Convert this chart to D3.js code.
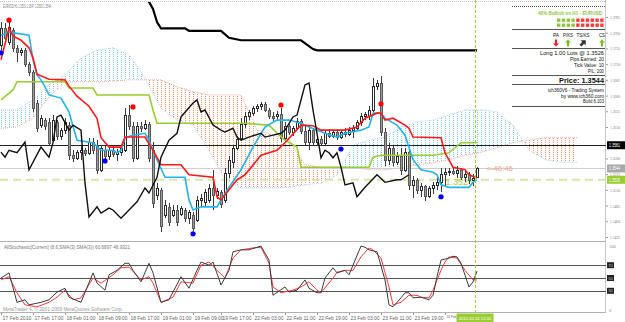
<!DOCTYPE html>
<html><head><meta charset="utf-8">
<script src="https://cdn.jsdelivr.net/npm/d3@7"></script>
<style>body{margin:0;background:#fff}svg{display:block;font-family:"Liberation Sans",Arial,sans-serif}</style>
</head><body><svg id="c" width="625" height="322"></svg>
<script>
// ---------- DATA ----------
const opens=[1.3740,1.3767,1.3745,1.3764,1.3736,1.3729,1.3732,1.3710,1.3697,1.3648,
1.3613,1.3621,1.3618,1.3589,1.3618,1.3596,1.3605,1.3613,1.3565,1.3561,
1.3570,1.3573,1.3569,1.3586,1.3581,1.3542,1.3573,1.3564,1.3573,1.3567,
1.3570,1.3573,1.3629,1.3612,1.3561,1.3612,1.3608,1.3615,1.3573,1.3502,
1.3510,1.3470,1.3483,1.3470,1.3478,1.3472,1.3478,1.3465,1.3470,1.3462,
1.3494,1.3491,1.3494,1.3513,1.3502,1.3507,1.3494,1.3537,1.3554,1.3577,
1.3593,1.3615,1.3628,1.3632,1.3640,1.3643,1.3647,1.3637,1.3628,1.3628,
1.3631,1.3593,1.3612,1.3602,1.3608,1.3620,1.3604,1.3586,1.3605,1.3586,
1.3591,1.3585,1.3600,1.3596,1.3602,1.3594,1.3602,1.3599,1.3605,1.3608,
1.3618,1.3628,1.3628,1.3637,1.3675,1.3680,1.3602,1.3558,1.3577,1.3554,
1.3564,1.3542,1.3570,1.3518,1.3526,1.3510,1.3516,1.3500,1.3513,1.3518,
1.3522,1.3535,1.3538,1.3540,1.3537,1.3542,1.3530,1.3535,1.3526,1.3531];
const highs=[1.3777,1.3775,1.3779,1.3767,1.3740,1.3736,1.3736,1.3713,1.3701,1.3653,
1.3629,1.3624,1.3624,1.3629,1.3621,1.3608,1.3624,1.3618,1.3573,1.3573,
1.3581,1.3577,1.3593,1.3593,1.3589,1.3581,1.3580,1.3577,1.3580,1.3575,
1.3580,1.3640,1.3645,1.3618,1.3618,1.3618,1.3621,1.3618,1.3586,1.3521,
1.3513,1.3494,1.3489,1.3486,1.3486,1.3484,1.3481,1.3478,1.3475,1.3500,
1.3503,1.3511,1.3519,1.3542,1.3513,1.3510,1.3545,1.3564,1.3581,1.3596,
1.3624,1.3634,1.3637,1.3643,1.3647,1.3650,1.3650,1.3640,1.3634,1.3635,
1.3640,1.3618,1.3615,1.3612,1.3624,1.3623,1.3612,1.3612,1.3608,1.3596,
1.3596,1.3605,1.3607,1.3605,1.3607,1.3605,1.3608,1.3610,1.3613,1.3621,
1.3632,1.3634,1.3643,1.3688,1.3685,1.3691,1.3608,1.3585,1.3580,1.3570,
1.3577,1.3577,1.3573,1.3532,1.3529,1.3521,1.3518,1.3516,1.3522,1.3529,
1.3545,1.3545,1.3545,1.3546,1.3548,1.3545,1.3542,1.3538,1.3535,1.3547];
const lows=[1.3732,1.3748,1.3740,1.3729,1.3713,1.3723,1.3705,1.3691,1.3634,1.3602,
1.3608,1.3605,1.3580,1.3586,1.3589,1.3589,1.3599,1.3558,1.3554,1.3558,
1.3558,1.3564,1.3565,1.3567,1.3535,1.3538,1.3558,1.3558,1.3562,1.3556,
1.3564,1.3570,1.3605,1.3554,1.3558,1.3602,1.3605,1.3554,1.3481,1.3494,
1.3443,1.3465,1.3453,1.3467,1.3453,1.3468,1.3459,1.3456,1.3445,1.3459,
1.3484,1.3483,1.3489,1.3478,1.3495,1.3481,1.3489,1.3529,1.3545,1.3573,
1.3589,1.3608,1.3621,1.3628,1.3634,1.3637,1.3634,1.3623,1.3620,1.3621,
1.3586,1.3589,1.3597,1.3596,1.3605,1.3599,1.3581,1.3573,1.3580,1.3581,
1.3580,1.3581,1.3593,1.3593,1.3589,1.3591,1.3594,1.3596,1.3593,1.3604,
1.3612,1.3621,1.3621,1.3634,1.3669,1.3596,1.3548,1.3550,1.3548,1.3550,
1.3534,1.3538,1.3510,1.3497,1.3503,1.3499,1.3492,1.3497,1.3503,1.3510,
1.3507,1.3516,1.3532,1.3534,1.3529,1.3526,1.3522,1.3519,1.3516,1.3530];
const closes=[1.3767,1.3752,1.3769,1.3736,1.3729,1.3732,1.3710,1.3697,1.3640,1.3608,
1.3624,1.3612,1.3585,1.3621,1.3596,1.3605,1.3618,1.3565,1.3561,1.3570,
1.3573,1.3569,1.3586,1.3573,1.3542,1.3577,1.3564,1.3573,1.3567,1.3570,
1.3577,1.3629,1.3612,1.3561,1.3612,1.3608,1.3615,1.3561,1.3489,1.3513,
1.3453,1.3486,1.3459,1.3478,1.3459,1.3481,1.3465,1.3475,1.3449,1.3494,
1.3497,1.3507,1.3513,1.3502,1.3508,1.3488,1.3537,1.3558,1.3577,1.3591,
1.3615,1.3628,1.3634,1.3640,1.3643,1.3647,1.3637,1.3628,1.3624,1.3631,
1.3593,1.3612,1.3602,1.3608,1.3620,1.3604,1.3586,1.3605,1.3586,1.3591,
1.3585,1.3600,1.3596,1.3602,1.3594,1.3602,1.3599,1.3605,1.3608,1.3618,
1.3628,1.3631,1.3637,1.3675,1.3680,1.3602,1.3558,1.3577,1.3554,1.3564,
1.3542,1.3570,1.3518,1.3526,1.3510,1.3516,1.3500,1.3513,1.3518,1.3522,
1.3535,1.3538,1.3540,1.3537,1.3542,1.3530,1.3535,1.3526,1.3529,1.3544];

// Ichimoku cloud (bar index incl. 26 future bars)
const cloudBars=[0,4,8,12,16,20,24,28,32,36,40,44,48,52,56,60,64,68,72,76,80,84,88,92,96,100,104,108,112,116,120,124,128,132,136,140,144];
const spanA=[1.3637,1.3637,1.3653,1.3677,1.3693,1.3720,1.3732,1.3736,1.3725,1.3688,1.3640,1.3621,1.3613,1.3573,1.3526,1.3513,1.3513,1.3513,1.3514,1.3518,1.3521,1.3534,1.3581,1.3589,1.3594,1.3610,1.3618,1.3621,1.3629,1.3637,1.3637,1.3634,1.3613,1.3573,1.3558,1.3554,1.3554];
const spanB=[1.3608,1.3610,1.3624,1.3658,1.3682,1.3682,1.3682,1.3683,1.3685,1.3685,1.3685,1.3674,1.3666,1.3661,1.3661,1.3661,1.3605,1.3597,1.3589,1.3550,1.3546,1.3546,1.3545,1.3542,1.3542,1.3545,1.3550,1.3553,1.3558,1.3565,1.3570,1.3577,1.3585,1.3589,1.3593,1.3593,1.3593];

const tenkan=[[0,1.3717],[2,1.3767],[3,1.3755],[5,1.3748],[7,1.3736],[8,1.3720],[9,1.3694],[12,1.3686],[16,1.3685],[17,1.3675],[19,1.3659],[22,1.3643],[24,1.3624],[25,1.3593],[27,1.3578],[30,1.3578],[31,1.3594],[36,1.3594],[38,1.3573],[40,1.3550],[45,1.3550],[47,1.3534],[53,1.3530],[54,1.3499],[55,1.3494],[57,1.3510],[59,1.3526],[61,1.3534],[65,1.3565],[69,1.3573],[71,1.3585],[75,1.3613],[78,1.3612],[80,1.3605],[86,1.3605],[89,1.3610],[91,1.3624],[94,1.3632],[95,1.3632],[96,1.3621],[98,1.3624],[101,1.3613],[102,1.3608],[103,1.3594],[110,1.3593],[111,1.3569],[113,1.3546],[116,1.3542],[117,1.3534],[119,1.3529]];
const kijun=[[0,1.3756],[2,1.3761],[7,1.3756],[8,1.3717],[9,1.3693],[10,1.3685],[11,1.3674],[12,1.3661],[15,1.3656],[16,1.3645],[17,1.3634],[19,1.3589],[23,1.3585],[25,1.3573],[28,1.3573],[29,1.3569],[30,1.3573],[31,1.3593],[33,1.3597],[36,1.3600],[37,1.3589],[39,1.3558],[41,1.3530],[46,1.3530],[47,1.3494],[48,1.3478],[50,1.3483],[54,1.3483],[55,1.3494],[57,1.3514],[60,1.3542],[63,1.3578],[66,1.3610],[69,1.3621],[72,1.3621],[75,1.3616],[77,1.3610],[81,1.3600],[84,1.3594],[86,1.3600],[90,1.3605],[92,1.3610],[93,1.3632],[95,1.3632],[96,1.3624],[99,1.3613],[101,1.3597],[103,1.3558],[105,1.3542],[108,1.3538],[109,1.3534],[110,1.3518],[112,1.3514],[117,1.3514],[118,1.3522],[119,1.3526]];
const greenLine=[[0,1.3653],[3,1.3669],[4,1.3682],[16,1.3682],[17,1.3672],[23,1.3672],[24,1.3661],[37,1.3661],[38,1.3637],[39,1.3616],[61,1.3616],[67,1.3613],[69,1.3600],[71,1.3589],[74,1.3578],[75,1.3546],[92,1.3546],[93,1.3562],[95,1.3565],[108,1.3565],[112,1.3569],[115,1.3585],[119,1.3585]];
const chikou=[[0,1.3570],[1,1.3562],[2,1.3573],[4,1.3569],[6,1.3586],[7,1.3542],[10,1.3578],[12,1.3562],[13,1.3585],[14,1.3626],[15,1.3629],[17,1.3605],[18,1.3613],[20,1.3605],[21,1.3521],[22,1.3467],[24,1.3483],[25,1.3473],[27,1.3481],[28,1.3478],[30,1.3465],[32,1.3478],[34,1.3491],[36,1.3513],[37,1.3505],[39,1.3530],[40,1.3562],[42,1.3589],[44,1.3600],[45,1.3626],[48,1.3648],[49,1.3653],[50,1.3634],[51,1.3637],[53,1.3613],[55,1.3605],[56,1.3602],[58,1.3608],[59,1.3594],[60,1.3589],[62,1.3594],[65,1.3600],[66,1.3594],[68,1.3597],[70,1.3600],[71,1.3605],[73,1.3626],[74,1.3629],[75,1.3653],[76,1.3677],[77,1.3680],[78,1.3637],[79,1.3600],[80,1.3561],[81,1.3573],[82,1.3569],[83,1.3561],[84,1.3569],[85,1.3546],[86,1.3518],[88,1.3521],[89,1.3499],[91,1.3514],[94,1.3534],[96,1.3522],[99,1.3526],[100,1.3526],[102,1.3534]];
const htfLine=[[36,1.3815],[37,1.3809],[38,1.3798],[39,1.3777],[40,1.3767],[46,1.3767],[47,1.3763],[55,1.3763],[57,1.3752],[60,1.3748],[75,1.3748],[78,1.3734],[79,1.3732],[119,1.3732]];
const fractalUp=[[2,1.3780],[33,1.3642],[70,1.3645],[95,1.3647]];
const fractalDn=[[0,1.3728],[26,1.3556],[48,1.3440],[85,1.3575],[110,1.3499]];

const stochK=[[0,50],[2,58],[4,12],[6,16],[7,8],[10,12],[12,16],[14,28],[16,34],[17,20],[20,12],[23,58],[24,42],[26,31],[27,55],[29,62],[31,73],[32,73],[33,62],[35,44],[37,73],[38,58],[40,12],[42,16],[45,52],[47,34],[49,62],[50,75],[52,70],[53,75],[55,39],[57,62],[58,91],[60,94],[62,94],[65,100],[67,78],[68,23],[71,36],[72,28],[74,31],[76,47],[77,34],[79,27],[80,27],[81,50],[83,66],[84,58],[86,62],[87,55],[88,70],[90,100],[91,98],[92,94],[94,91],[96,47],[97,8],[98,5],[100,19],[101,27],[102,27],[103,19],[105,20],[107,16],[108,23],[109,52],[110,78],[112,81],[113,84],[114,83],[115,73],[117,36],[118,44],[119,60.6897]];
const stochD=[[0,47],[2,52],[4,27],[6,8],[9,5],[12,12],[14,20],[16,31],[18,16],[20,19],[23,50],[25,42],[28,55],[30,66],[32,67],[35,47],[37,52],[38,42],[40,12],[43,20],[45,44],[48,42],[50,70],[52,75],[54,62],[56,50],[58,81],[60,94],[63,97],[65,98],[67,73],[68,36],[70,27],[73,31],[75,36],[77,44],[79,31],[80,27],[83,50],[84,59],[86,62],[88,62],[90,83],[92,97],[93,94],[95,81],[97,36],[98,8],[100,12],[102,23],[104,23],[105,20],[107,19],[108,31],[110,62],[111,75],[112,83],[114,81],[116,62],[118,47],[119,46.9321]];
const stochLevels=[70,50,30];

const priceTicks=[1.3785,1.3760,1.3735,1.3710,1.3685,1.3660,1.3635,1.3610,1.3560,1.3535,1.3510,1.3485,1.3460,1.3435];
const markerPrices=[1.3581,1.3544,1.3526];
const timeTicks=[0,8,16,24,32,40,48,55,63,71,79,87,95,103,111];
const timeLabels=["17 Feb 2010","17 Feb 17:00","18 Feb 01:00","18 Feb 09:00","18 Feb 17:00","19 Feb 01:00","19 Feb 09:00","19 Feb 17:00","22 Feb 03:00","22 Feb 11:00","22 Feb 19:00","23 Feb 03:00","23 Feb 11:00","23 Feb 19:00","24 Feb"];
const cursorBar=118.4, cursorLabel="2010.02.24 12:00";
const titleText="EURUSD,H1  1.3531 1.3547 1.3530 1.3544";
const stochTitle="AllStochastic[Current] (8,6,SMA(3),SMA(3)) 60.6897 46.9321";
const copyright="MetaTrader 4, \u00a9 2001-2009 MetaQuotes Software Corp.";
const entryPrice=1.3526, bidPrice=1.3544, levelPrice=1.3581, timerText="<-46:46";
const bullPct=40, boxCount=10;
const panelHead="40% Bullish on H1 - EURUSD";
const signalNames=["PA","P/KS","TS/KS","CS"];
const signalDirs=["down","up","diag","up"];
const tradeLines=["Long 1.00 Lots @ 1.3526","Pips Earned: 20","Tick Value: 10","P/L: 200"];
const priceLine="Price: 1.3544";
const creditLines=["ich360V6 - Trading System","by www.ich360.com","Build 6.103"];

// ---------- SCALES ----------
const svg=d3.select('#c');
const x=d3.scaleLinear().domain([0,119]).range([1,477]);
const y=d3.scaleLinear().domain([1.3435,1.3785]).range([237,17]);
const ys=d3.scaleLinear().domain([0,100]).range([310,246]);
const px=i=>Math.round(x(i))+0.5;

const defs=svg.append('defs');
defs.append('clipPath').attr('id','cm').append('rect').attr('x',0).attr('y',2).attr('width',606).attr('height',239);
defs.append('clipPath').attr('id','cs').append('rect').attr('x',0).attr('y',242).attr('width',606).attr('height',70);
function pat(id,col){const p=defs.append('pattern').attr('id',id).attr('width',4).attr('height',2).attr('patternUnits','userSpaceOnUse');
 p.append('rect').attr('x',1).attr('y',0).attr('width',1).attr('height',1).attr('fill',col);}
pat('pb','#84c4ec'); pat('ps','#f0906e');

const cloud=cloudBars.map((b,k)=>({b,a:spanA[k],s:spanB[k]}));
defs.append('clipPath').attr('id','cbull').append('path').attr('d',d3.area().x(d=>x(d.b)).y0(d=>y(d.a)).y1(260)(cloud));
defs.append('clipPath').attr('id','cbear').append('path').attr('d',d3.area().x(d=>x(d.b)).y0(-10).y1(d=>y(d.a))(cloud));

// ---------- FRAME ----------
svg.append('rect').attr('width',625).attr('height',322).attr('fill','#fff');
svg.append('line').attr('x1',0).attr('x2',606).attr('y1',1.5).attr('y2',1.5).attr('stroke','#c8c8c8').attr('stroke-dasharray','1,1');
svg.append('line').attr('x1',605.5).attr('x2',605.5).attr('y1',0).attr('y2',313).attr('stroke','#c8c8c8');
svg.append('line').attr('x1',0).attr('x2',606).attr('y1',241.5).attr('y2',241.5).attr('stroke','#b0b0b0');
svg.append('line').attr('x1',0).attr('x2',606).attr('y1',312.5).attr('y2',312.5).attr('stroke','#b0b0b0');

const m=svg.append('g').attr('clip-path','url(#cm)');
// cloud
const band=d3.area().x(d=>x(d.b)).y0(d=>y(d.a)).y1(d=>y(d.s));
m.append('g').attr('clip-path','url(#cbull)').append('path').attr('d',band(cloud)).attr('fill','url(#pb)');
m.append('g').attr('clip-path','url(#cbear)').append('path').attr('d',band(cloud)).attr('fill','url(#ps)');
const ln=d3.line().x(d=>x(d[0])).y(d=>y(d[1]));
m.append('path').attr('d',d3.line().x(d=>x(d.b)).y(d=>y(d.a))(cloud)).attr('fill','none').attr('stroke','#a6d6f2').attr('stroke-dasharray','1,1');
m.append('path').attr('d',d3.line().x(d=>x(d.b)).y(d=>y(d.s))(cloud)).attr('fill','none').attr('stroke','#f4a68c').attr('stroke-dasharray','1,1');

// horizontal lines
const hy=p=>Math.round(y(p))+0.5;
m.append('line').attr('x1',0).attr('x2',606).attr('y1',hy(levelPrice)).attr('y2',hy(levelPrice)).attr('stroke','#222');
m.append('line').attr('x1',0).attr('x2',606).attr('y1',hy(bidPrice)).attr('y2',hy(bidPrice)).attr('stroke','#cfcfcf');
m.append('line').attr('x1',0).attr('x2',606).attr('y1',y(entryPrice)).attr('y2',y(entryPrice)).attr('stroke','#d6e6a8').attr('stroke-width',2).attr('stroke-dasharray','8,5');
m.append('text').attr('x',x(119)-4).attr('y',y(entryPrice)+5).attr('text-anchor','end').attr('font-size',9).attr('fill','#a8d048').text('1.3526');

// candles
const cg=m.append('g').attr('shape-rendering','crispEdges');
opens.forEach((o,i)=>{
  const c=closes[i],cx=px(i),bull=c>=o;
  cg.append('line').attr('x1',cx).attr('x2',cx).attr('y1',y(highs[i])).attr('y2',y(lows[i])).attr('stroke','#3a3a3a');
  const t=Math.round(y(Math.max(o,c)))+0.5, b=Math.round(y(Math.min(o,c)))+0.5;
  cg.append('rect').attr('x',cx-1).attr('y',t).attr('width',2).attr('height',Math.max(1,b-t))
    .attr('fill',bull?'#fff':'#9a9a9a').attr('stroke',bull?'#2a2a2a':'#5a5a5a');
});

// indicator lines
m.append('path').attr('d',ln(greenLine)).attr('fill','none').attr('stroke','#9acd32').attr('stroke-width',1.6);
m.append('path').attr('d',ln(kijun)).attr('fill','none').attr('stroke','#22b4ee').attr('stroke-width',1.6);
m.append('path').attr('d',ln(tenkan)).attr('fill','none').attr('stroke','#ff1a1a').attr('stroke-width',1.6);
m.append('path').attr('d',ln(chikou)).attr('fill','none').attr('stroke','#111').attr('stroke-width',1.4);
m.append('path').attr('d',ln(htfLine)).attr('fill','none').attr('stroke','#000').attr('stroke-width',2.2);
m.selectAll('.fu').data(fractalUp).join('circle').attr('cx',d=>x(d[0])).attr('cy',d=>y(d[1])).attr('r',2.6).attr('fill','#ff0000');
m.selectAll('.fd').data(fractalDn).join('circle').attr('cx',d=>x(d[0])).attr('cy',d=>y(d[1])).attr('r',2.6).attr('fill','#0000ee');
m.append('text').attr('x',x(119)+9).attr('y',y(bidPrice)+2.5).attr('font-size',7).attr('fill','#eda27c').attr('textLength',27).attr('lengthAdjust','spacingAndGlyphs').text(timerText);

// title
svg.append('text').attr('x',3).attr('y',7.5).attr('font-size',4.5).attr('fill','#777').attr('textLength',48).attr('lengthAdjust','spacingAndGlyphs').text(titleText);

// ---------- INFO PANEL ----------
const ip=svg.append('g');
[6.5,29.5,48.5,75.5,84.5,106.5].forEach(v=>ip.append('line').attr('x1',512).attr('x2',605).attr('y1',v).attr('y2',v).attr('stroke','#555').attr('stroke-dasharray',v<7?'1,1':null));
function rt(s,xx,yy,size,w,opt={}){return ip.append('text').attr('x',xx).attr('y',yy).attr('font-size',size).attr('text-anchor',opt.anchor||'end')
  .attr('fill',opt.fill||'#111').attr('font-weight',opt.bold?'bold':null).attr('textLength',w).attr('lengthAdjust','spacingAndGlyphs').text(s);}
rt(panelHead,602,14.5,5,64,{fill:'#8cc63f',bold:true});
d3.range(boxCount).forEach(k=>{[18.5,23.5].forEach(r=>ip.append('rect').attr('x',557+k*4.8).attr('y',r).attr('width',3.4).attr('height',3.4).attr('fill',k<boxCount*bullPct/100?'#8cc63f':'#ff3a3a'));});
const sigX=[556,568,583,602], sigW=[6,10,13,6];
signalNames.forEach((s,k)=>rt(s,sigX[k],36.5,5,sigW[k],{anchor:'middle'}));
const arrowRot={down:180,up:0,diag:45}, arrowCol={down:'#ee2222',up:'#77bb22',diag:'#333'};
const arrowShape='M0,-3.6L3,-0.4L1.1,-0.4L1.1,3.4L-1.1,3.4L-1.1,-0.4L-3,-0.4Z';
signalDirs.forEach((d,k)=>ip.append('path').attr('d',arrowShape).attr('fill',arrowCol[d])
  .attr('stroke',d==='diag'?'#111':'none').attr('stroke-width',0.4)
  .attr('transform',`translate(${sigX[k]},43) rotate(${arrowRot[d]})`));
const tw=[64,34,30,16];
tradeLines.forEach((s,k)=>rt(s,604,54.5+k*6,5,tw[k]));
rt(priceLine,604,83,8,45,{bold:true});
const cw=[56,43,21];
creditLines.forEach((s,k)=>rt(s,604,92+k*5.5,4.6,cw[k]));

// ---------- PRICE AXIS ----------
const ay=svg.append('g').attr('transform','translate(606,0)').call(d3.axisRight(y).tickValues(priceTicks).tickSize(2).tickFormat(d3.format('.4f')));
ay.select('.domain').remove();
ay.selectAll('line').attr('stroke','#999');
ay.selectAll('text').attr('x',4).attr('font-size',4.5).attr('fill','#777').attr('font-family','"Liberation Serif",serif').attr('textLength',10).attr('lengthAdjust','spacingAndGlyphs');
const mkCol=['#000','#a8a8a8','#9acd32'];
markerPrices.forEach((p,k)=>{const g=svg.append('g');
  g.append('rect').attr('x',607).attr('y',y(p)-4).attr('width',18).attr('height',8).attr('fill',mkCol[k]);
  g.append('text').attr('x',609).attr('y',y(p)+1.8).attr('font-size',4.8).attr('fill','#fff').attr('textLength',11).attr('lengthAdjust','spacingAndGlyphs').text(d3.format('.4f')(p));});

// ---------- STOCHASTIC ----------
const s=svg.append('g').attr('clip-path','url(#cs)');
stochLevels.forEach(v=>s.append('line').attr('x1',0).attr('x2',606).attr('y1',Math.round(ys(v))+0.5).attr('y2',Math.round(ys(v))+0.5).attr('stroke','#555'));
const sl=d3.line().x(d=>x(d[0])).y(d=>ys(d[1]));
s.append('path').attr('d',sl(stochD)).attr('fill','none').attr('stroke','#ff3b3b').attr('stroke-width',1);
s.append('path').attr('d',sl(stochK)).attr('fill','none').attr('stroke','#3c3c3c').attr('stroke-width',1);
svg.append('text').attr('x',4).attr('y',248.5).attr('font-size',4.5).attr('fill','#777').attr('textLength',126).attr('lengthAdjust','spacingAndGlyphs').text(stochTitle);
svg.append('text').attr('x',3).attr('y',310.8).attr('font-size',4.5).attr('fill','#9a9a9a').attr('textLength',120).attr('lengthAdjust','spacingAndGlyphs').text(copyright);
const as=svg.append('g').attr('transform','translate(606,0)').call(d3.axisRight(ys).tickValues([100,0]).tickSize(0));
as.select('.domain').remove();
as.selectAll('text').attr('x',3).attr('font-size',4.5).attr('fill','#888').attr('font-family','"Liberation Serif",serif');
stochLevels.forEach(v=>{svg.append('rect').attr('x',607).attr('y',ys(v)-3).attr('width',7).attr('height',6).attr('fill','#222');
  svg.append('text').attr('x',610.5).attr('y',ys(v)+1.5).attr('text-anchor','middle').attr('font-size',4).attr('fill','#ccc').text(v);});

// ---------- TIME AXIS ----------
const ax=svg.append('g').attr('transform','translate(0,313)').call(d3.axisBottom(x).tickValues(timeTicks).tickSize(2).tickFormat((d,i)=>timeLabels[i]));
ax.select('.domain').remove();
ax.selectAll('line').attr('stroke','#999');
ax.selectAll('text').attr('text-anchor','start').attr('dx',1).attr('y',3).attr('fill','#666')
  .attr('font-size',(d,i)=>timeLabels[i].length>6?5:3.2)
  .attr('textLength',(d,i)=>timeLabels[i].length>6?29:null).attr('lengthAdjust','spacingAndGlyphs');
// cursor line & label
const cxl=Math.round(x(cursorBar))+0.5;
svg.append('line').attr('x1',cxl).attr('x2',cxl).attr('y1',0).attr('y2',313).attr('stroke','#9acd32').attr('stroke-dasharray','3,2');
svg.append('rect').attr('x',cxl-19).attr('y',313.5).attr('width',37).attr('height',8.5).attr('fill','#9acd32');
svg.append('text').attr('x',cxl-0.5).attr('y',319.8).attr('text-anchor','middle').attr('font-size',4.2).attr('fill','#fff').text(cursorLabel);
</script></body></html>
